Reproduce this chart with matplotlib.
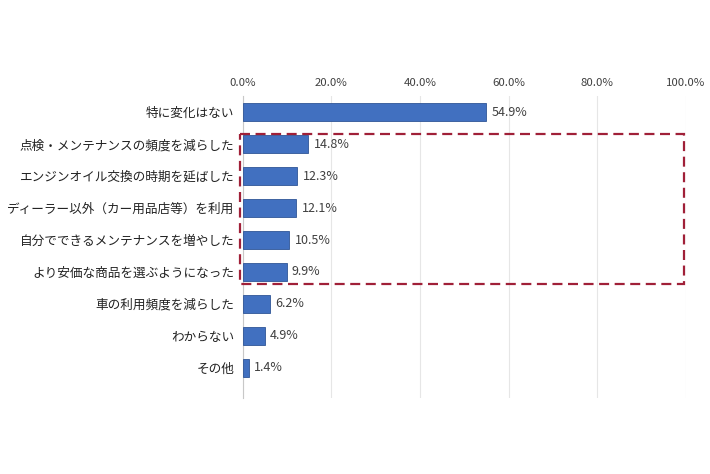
import matplotlib
matplotlib.use('Agg')
import matplotlib.pyplot as plt
from matplotlib.patches import Rectangle

plt.rcParams['font.family'] = ['Noto Sans CJK JP', 'DejaVu Sans']

categories = ['特に変化はない', '点検・メンテナンスの頻度を減らした', 'エンジンオイル交換の時期を延ばした',
              'ディーラー以外（カー用品店等）を利用', '自分でできるメンテナンスを増やした',
              'より安価な商品を選ぶようになった', '車の利用頻度を減らした', 'わからない', 'その他']
values = [54.9, 14.8, 12.3, 12.1, 10.5, 9.9, 6.2, 4.9, 1.4]
xticks = [0, 20, 40, 60, 80, 100]

fig = plt.figure(figsize=(7.1, 4.74), dpi=100)
ax = fig.add_axes([0.342, 0.16, 0.624, 0.637])

pos = list(range(len(categories)))
ax.barh(pos, values, height=0.58, color='#4170c0', edgecolor='#2f5597', linewidth=0.6, zorder=3)
for p, v in zip(pos, values):
    ax.text(v + 1.2, p, '{:.1f}%'.format(v), va='center', ha='left', fontsize=9, color='#404040')

ax.set_xlim(0, 100)
ax.set_ylim(len(categories) - 0.05, -0.5)
ax.set_xticks(xticks)
ax.set_xticklabels(['{:.1f}%'.format(t) for t in xticks], fontsize=8.2, color='#404040')
ax.xaxis.tick_top()
ax.set_yticks(pos)
ax.set_yticklabels(categories, fontsize=9.1, color='#222222')
ax.tick_params(axis='y', length=0, pad=6)
ax.tick_params(axis='x', length=0, pad=6)
ax.grid(axis='x', color='#e6e6e6', linewidth=0.8, zorder=0)
for s in ['top', 'right', 'bottom']:
    ax.spines[s].set_visible(False)
ax.spines['left'].set_color('#c8c8c8')
ax.spines['left'].set_linewidth(0.8)

# highlight box around items 2-6
box = Rectangle((-0.6, 0.67), 100.1, 4.7, fill=False, edgecolor='#a02038',
                linestyle=(0, (4.5, 2.5)), linewidth=1.6, clip_on=False, zorder=4)
ax.add_patch(box)

fig.savefig('out.png', dpi=100, facecolor='white')
